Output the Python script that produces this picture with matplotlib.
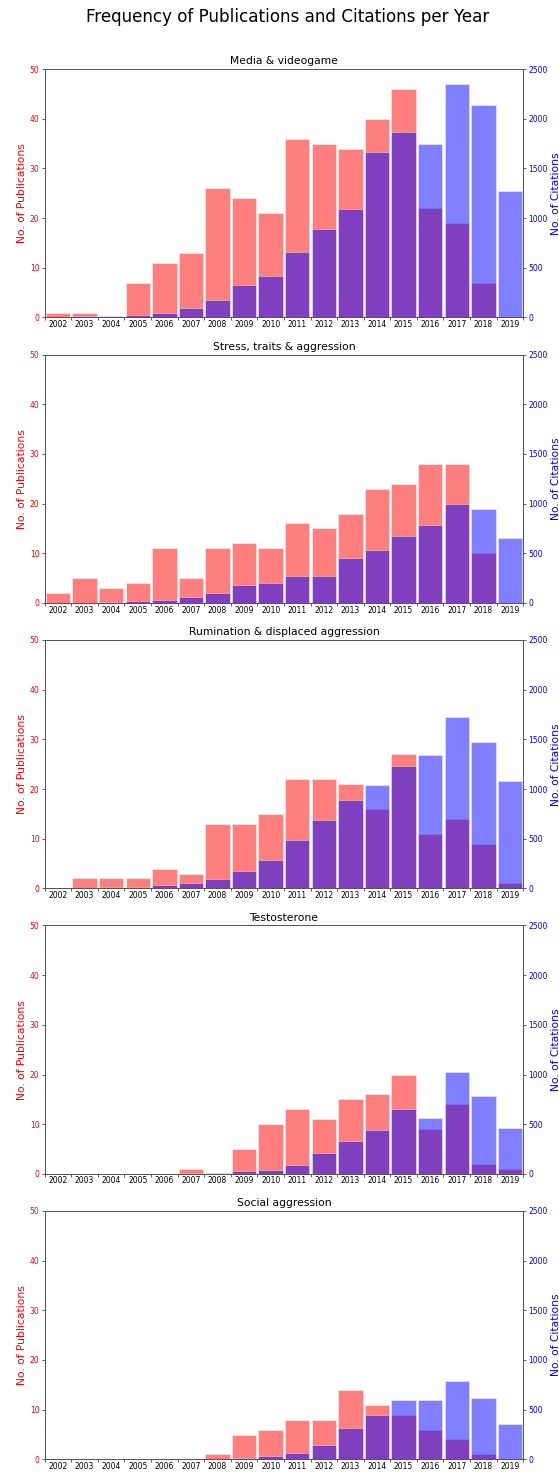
import numpy as np
import matplotlib
matplotlib.use('Agg')
import matplotlib.pyplot as plt

# Years on the x axis
years = [str(y) for y in range(2002, 2020)]

# Panel titles
titles = ['Media & videogame',
          'Stress, traits & aggression',
          'Rumination & displaced aggression',
          'Testosterone',
          'Social aggression']

# Publications per year (left axis)
pubs_media = [1, 1, 0, 7, 11, 13, 26, 24, 21, 36, 35, 34, 40, 46, 22, 19, 7, 0]
pubs_stress = [2, 5, 3, 4, 11, 5, 11, 12, 11, 16, 15, 18, 23, 24, 28, 28, 10, 0]
pubs_rumination = [0, 2, 2, 2, 4, 3, 13, 13, 15, 22, 22, 21, 16, 27, 11, 14, 9, 1]
pubs_testosterone = [0, 0, 0, 0, 0, 1, 0, 5, 10, 13, 11, 15, 16, 20, 9, 14, 2, 1]
pubs_social = [0, 0, 0, 0, 0, 0, 1, 5, 6, 8, 8, 14, 11, 9, 6, 4, 1, 0]

# Citations per year (right axis)
cits_media = [5, 15, 15, 25, 47, 97, 175, 322, 416, 661, 889, 1094, 1661, 1866, 1748, 2346, 2141, 1269]
cits_stress = [0, 0, 10, 17, 34, 64, 100, 181, 204, 275, 275, 449, 536, 677, 787, 992, 942, 653]
cits_rumination = [0, 0, 10, 17, 34, 50, 90, 175, 285, 490, 688, 886, 1040, 1232, 1346, 1725, 1473, 1085]
cits_testosterone = [0, 0, 0, 0, 0, 7, 10, 27, 40, 87, 208, 336, 446, 658, 560, 1024, 782, 466]
cits_social = [0, 0, 0, 0, 0, 0, 0, 13, 33, 64, 144, 315, 442, 596, 596, 787, 613, 352]

pubs = [pubs_media, pubs_stress, pubs_rumination, pubs_testosterone, pubs_social]
cits = [cits_media, cits_stress, cits_rumination, cits_testosterone, cits_social]

dpi = 55
fig, axes = plt.subplots(5, 1, figsize=(559 / dpi, 1475 / dpi), dpi=dpi)
fig.subplots_adjust(left=0.08, right=0.936, top=0.9532, bottom=0.0106, hspace=0.149)
fig.suptitle('Frequency of Publications and Citations per Year', fontsize=22,
             x=0.514, y=0.9885, va='center')

x = np.arange(len(years)) + 0.5

for ax, title, p, c in zip(axes, titles, pubs, cits):
    # publications in red
    ax.bar(x, p, width=0.92, color='red', alpha=0.5, edgecolor='white', linewidth=1)
    ax.set_ylim(0, 50)
    ax.set_xlim(0, len(years))
    ax.set_ylabel('No. of Publications', color='red', fontsize=14)
    ax.tick_params(axis='y', labelcolor='red', labelsize=10)
    ax.set_title(title, fontsize=14)

    # ticks at bin edges, labels at bin centres
    ax.set_xticks(np.arange(len(years) + 1))
    ax.set_xticklabels([])
    ax.set_xticks(x, minor=True)
    ax.set_xticklabels(years, minor=True, fontsize=10)
    ax.tick_params(axis='x', which='minor', length=0)

    # citations in blue on twin axis
    ax2 = ax.twinx()
    ax2.bar(x, c, width=0.92, color='blue', alpha=0.5, edgecolor='white', linewidth=1)
    ax2.set_ylim(0, 2500)
    ax2.set_ylabel('No. of Citations', color='blue', fontsize=14)
    ax2.tick_params(axis='y', labelcolor='blue', labelsize=10)

    # softer grey frame like the original
    for a in (ax, ax2):
        for s in a.spines.values():
            s.set_color('#555555')
            s.set_linewidth(1.2)

plt.savefig('out.png', dpi=dpi)
